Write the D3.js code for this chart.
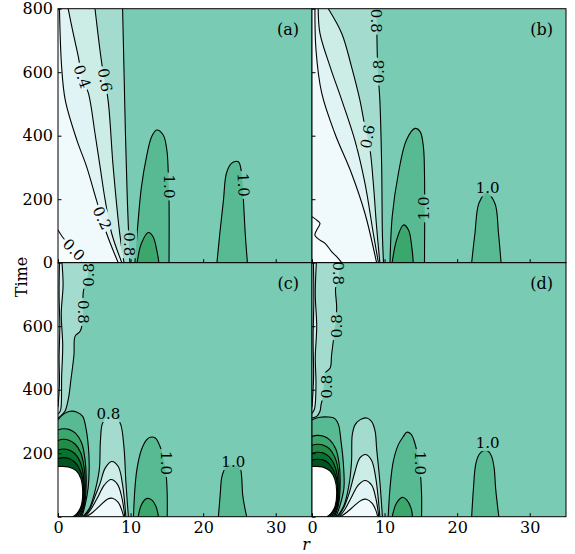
<!DOCTYPE html>
<html>
<head>
<meta charset="utf-8">
<script src="https://cdn.jsdelivr.net/npm/d3@7"></script>
<style>
body { margin: 0; background: #fff; }
text { font-family: "DejaVu Serif", serif; }
</style>
</head>
<body>
<script>
// contour levels and colour map (BuGn)
const levels = [0.0, 0.2, 0.4, 0.6, 0.8, 1.0, 1.2, 1.4, 1.6, 1.8, 2.0];
const bugn = ["#f7fcfd", "#e5f5f9", "#ccece6", "#99d8c9", "#66c2a4", "#41ae76", "#238b45", "#006d2c", "#00441b"];
const xTicks = [0, 10, 20, 30];
const yTicks = [0, 200, 400, 600, 800];

// ---- panel (a): contour lines as [r, time]
const a08 = [[8.9,800],[9.1,600],[9.3,400],[9.55,200],[9.9,0]];
const a06 = [[5.1,800],[6.1,617],[6.9,512],[7.6,302],[8.5,93],[9.1,0]];
const a04 = [[1.4,800],[2.1,722],[2.8,649],[3.3,586],[4.2,533],[5.1,407],[5.8,302],[6.5,197],[7.4,92],[8.8,0]];
const a02 = [[0.2,800],[0.5,617],[1.0,512],[2.6,386],[3.95,302],[5.3,197],[6.7,92],[8.3,0]];
const a00 = [[0,103],[0.75,77],[1.65,56],[2.55,29],[3.25,0]];
const a10a = [[10.6,0],[10.9,92],[11.5,239],[12.2,334],[12.9,397],[13.6,418],[14.5,402],[15.0,355],[15.2,281],[15.3,197],[15.3,0]];
const a12a = [[10.9,0],[11.5,61],[12.45,95],[13.1,82],[13.7,29],[13.9,0]];
const a10b = [[21.9,0],[22.3,92],[22.8,197],[23.2,281],[23.9,313],[24.85,318],[25.3,281],[25.55,197],[25.8,92],[26.1,0]];
const aLabels = [["0.4",3.3,586,70],["0.6",6.45,575,80],["0.2",6.05,140,65],["0.0",2.15,40,45],["0.8",9.8,58,90],["1.0",15.3,240,90],["1.0",25.5,245,87]];

// ---- panel (b)
const b08 = [[8.9,800],[9.05,617],[9.35,512],[9.6,302],[9.7,92],[9.85,0]];
const b06 = [[2.25,800],[4.1,722],[5.45,617],[6.6,512],[7.3,428],[8.0,355],[8.45,250],[8.9,113],[9.35,0]];
const b04 = [[0.85,800],[1.1,722],[2.5,617],[4.1,512],[5.9,386],[7.3,250],[8.45,92],[9.15,0]];
const b02 = [[0.4,800],[0.55,670],[1.35,533],[3.15,407],[5.45,281],[7.3,155],[8.9,0]];
const b00 = [[0,145],[0.65,134],[1.1,124],[0.65,103],[0.4,87],[1.1,71],[1.8,61],[2.7,35],[3.4,19],[4.1,0]];
const b10a = [[10.75,0],[11.05,145],[11.9,281],[13.0,386],[14.2,423],[14.9,413],[15.35,365],[15.5,281],[15.5,0]];
const b12a = [[11.05,0],[11.65,71],[12.6,119],[13.3,103],[13.75,50],[13.95,0]];
const b10b = [[22.0,0],[22.45,92],[23.0,187],[24.05,220],[25.2,187],[25.7,92],[26.05,0]];
const bLabels = [["0.8",8.85,762,90],["0.8",9.3,602,-90],["0.6",7.7,397,-80],["1.0",15.5,171,-90],["1.0",24.2,234,0]];

// ---- panel (c)
const c08 = [[4.3,800],[4.05,752],[3.5,710],[3.4,615],[3.05,584],[2.35,568],[2.2,510],[1.75,426],[1.45,374],[0.95,332],[0.3,316],[0,311]];
const c06 = [[0.55,800],[0.7,730],[0.45,640],[0.65,540],[0.5,440],[0.4,340],[0.2,328],[0,324]];
const c04 = [[0.2,800],[0.15,700],[0.25,600],[0.15,500],[0.2,420],[0,345]];
const c10 = [[0,305],[0.75,323],[1.65,332],[2.55,330],[3.4,316],[3.85,279],[4.2,216],[4.3,153],[4.15,90],[3.75,38],[3.3,0]];
const c12 = [[0,273],[0.7,277],[1.5,275],[2.4,263],[3.25,233],[3.75,175],[3.88,95],[3.63,36],[3.12,0]];
const c14 = [[0,240],[0.7,244],[1.5,241],[2.35,229],[3.1,203],[3.6,155],[3.74,86],[3.52,35],[2.95,0]];
const c16 = [[0,210],[0.7,213],[1.5,210],[2.3,199],[2.95,178],[3.45,138],[3.62,82],[3.42,35],[2.7,0]];
const c18 = [[0,183],[0.7,186],[1.5,183],[2.25,173],[2.85,155],[3.35,125],[3.52,80],[3.32,35],[2.45,0]];
const c20 = [[0,158],[1.4,157],[2.5,145],[3.15,120],[3.4,80],[3.2,35],[2.6,10],[2.05,0]];
const c08arch = [[3.45,0],[4.4,30],[5.2,90],[5.7,150],[5.85,240],[6.15,295],[6.9,313],[8.1,311],[8.65,290],[9.1,216],[9.35,111],[9.7,0]];
const c06arch = [[3.6,0],[4.4,25],[5.2,70],[5.8,105],[6.5,153],[7.4,174],[8.3,158],[8.9,100],[9.35,0]];
const c04arch = [[3.75,0],[4.5,22],[5.4,58],[6.4,100],[7.3,117],[8.2,102],[8.8,60],[9.2,0]];
const c02arch = [[3.9,0],[4.8,14],[5.8,35],[6.8,55],[7.5,58],[8.3,45],[8.8,20],[9.05,0]];
const c10a = [[10.4,0],[10.6,90],[10.9,153],[11.5,211],[12.2,242],[12.7,250],[13.4,248],[14.05,222],[14.5,185],[14.9,132],[15.05,69],[15.05,0]];
const c12a = [[11.05,0],[11.5,38],[12.2,57],[12.9,53],[13.5,32],[13.85,0]];
const c10b = [[22.1,0],[22.35,69],[22.55,122],[22.9,148],[23.25,162],[23.7,164],[24.15,155],[24.6,162],[25.1,153],[25.3,127],[25.45,69],[25.75,27],[26.0,0]];
const cLabels = [["0.8",4.25,762,-90],["0.8",3.45,645,90],["0.8",6.95,323,0],["1.0",14.95,169,90],["1.0",24.15,172,0]];

// ---- panel (d)
const d08 = [[3.85,800],[3.65,752],[3.25,720],[3.4,657],[3.1,584],[2.7,510],[2.5,468],[1.8,452],[1.55,384],[1.25,353],[1.1,332],[0.65,316],[0,311]];
const d06 = [[0.6,800],[0.45,700],[0.65,600],[0.45,500],[0.55,420],[0.35,340],[0,325]];
const d04 = [[0.2,800],[0.25,680],[0.15,560],[0.22,440],[0,345]];
const d10 = [[0,305],[1.1,313],[2.25,314],[3.15,309],[3.65,290],[4.0,237],[4.3,174],[4.4,90],[3.85,35],[3.3,0]];
const d12 = [[0,253],[0.7,256],[1.5,254],[2.4,243],[3.25,215],[3.75,165],[3.88,95],[3.63,36],[3.12,0]];
const d14 = [[0,225],[0.7,228],[1.5,226],[2.35,215],[3.1,190],[3.6,148],[3.74,86],[3.52,35],[2.95,0]];
const d16 = [[0,200],[0.7,203],[1.5,201],[2.3,190],[2.95,170],[3.45,133],[3.62,82],[3.42,35],[2.7,0]];
const d18 = [[0,178],[0.7,181],[1.5,179],[2.25,169],[2.85,150],[3.35,122],[3.52,80],[3.32,35],[2.45,0]];
const d20 = [[0,158],[1.4,157],[2.5,144],[3.15,118],[3.4,80],[3.2,35],[2.6,10],[2.05,0]];
const d08arch = [[3.45,0],[4.4,35],[5.1,100],[5.45,174],[5.55,258],[5.95,290],[6.6,305],[7.55,311],[8.2,300],[8.7,269],[8.9,216],[9.35,111],[9.7,0]];
const d06arch = [[3.6,0],[4.4,30],[5.2,80],[5.9,140],[6.6,185],[7.4,196],[8.2,178],[8.8,120],[9.35,0]];
const d04arch = [[3.75,0],[4.5,22],[5.4,60],[6.4,100],[7.3,114],[8.2,100],[8.8,58],[9.2,0]];
const d02arch = [[3.9,0],[4.8,14],[5.8,34],[6.8,52],[7.5,55],[8.3,42],[8.8,20],[9.05,0]];
const d10a = [[10.5,0],[10.75,90],[11.2,174],[11.9,227],[12.6,253],[13.05,266],[13.65,260],[14.1,237],[14.55,195],[14.9,143],[15.1,69],[15.1,0]];
const d12a = [[11.05,0],[11.65,43],[12.45,61],[13.05,53],[13.65,27],[13.85,0]];
const d10b = [[22.0,0],[22.25,90],[22.55,164],[23.0,195],[23.6,208],[24.3,206],[24.75,190],[25.1,153],[25.3,90],[25.6,27],[25.75,0]];
const dLabels = [["0.8",3.65,767,90],["0.8",3.4,600,-90],["0.8",2.0,410,-90],["1.0",14.9,169,90],["1.0",24.2,232,0]];

const W = 575, H = 554, S = 254;
const cmap = d3.scaleLinear().domain(d3.range(bugn.length).map(i => i / (bugn.length - 1))).range(bugn);
// colour of the band between levels[k] and levels[k+1]
const band = k => cmap(((levels[k] + levels[k + 1]) / 2 - levels[0]) / (levels[levels.length - 1] - levels[0]));

const TL = [[0,0],[0,800]], TOP = [[0,800]], BL = [[0,0]];

// fills in drawing order: [line, band index (-1 = below lowest level, -2 = above highest), extra corners]
const panels = [
  { name: "(a)", col: 0, row: 0, labels: aLabels,
    layers: [[a08,3,TL],[a06,2,TL],[a04,1,TL],[a02,0,TL],[a00,-1,BL],[a10a,5,[]],[a12a,6,[]],[a10b,5,[]]] },
  { name: "(b)", col: 1, row: 0, labels: bLabels,
    layers: [[b08,3,TL],[b06,2,TL],[b04,1,TL],[b02,0,TL],[b00,-1,BL],[b10a,5,[]],[b12a,6,[]],[b10b,5,[]]] },
  { name: "(c)", col: 0, row: 1, labels: cLabels,
    layers: [[c08,3,TOP],[c06,2,TOP],[c04,1,TOP],[c08arch,3,[]],[c06arch,2,[]],[c04arch,1,[]],[c02arch,0,[]],
             [c10,5,BL],[c12,6,BL],[c14,7,BL],[c16,8,BL],[c18,9,BL],[c20,-2,BL],[c10a,5,[]],[c12a,6,[]],[c10b,5,[]]] },
  { name: "(d)", col: 1, row: 1, labels: dLabels,
    layers: [[d08,3,TOP],[d06,2,TOP],[d04,1,TOP],[d08arch,3,[]],[d06arch,2,[]],[d04arch,1,[]],[d02arch,0,[]],
             [d10,5,BL],[d12,6,BL],[d14,7,BL],[d16,8,BL],[d18,9,BL],[d20,-2,BL],[d10a,5,[]],[d12a,6,[]],[d10b,5,[]]] }
];
const fillOf = k => k === -2 ? "#fff" : k === -1 ? bugn[0] : band(k);

const x = d3.scaleLinear().domain([0, 35]).range([0, S]);
const y = d3.scaleLinear().domain([0, 800]).range([S, 0]);
const line = d3.line().x(d => x(d[0])).y(d => y(d[1])).curve(d3.curveCatmullRom.alpha(0.5));

const svg = d3.select("body").append("svg").attr("width", W).attr("height", H);
const defs = svg.append("defs");
const left0 = 58, top0 = 8.7;

panels.forEach((p, i) => {
  const g = svg.append("g").attr("transform", `translate(${left0 + p.col * S},${top0 + p.row * S})`);
  defs.append("clipPath").attr("id", "clip" + i).append("rect").attr("width", S).attr("height", S);
  const mask = defs.append("mask").attr("id", "mask" + i).attr("maskUnits", "userSpaceOnUse")
    .attr("x", -10).attr("y", -10).attr("width", S + 20).attr("height", S + 20);
  mask.append("rect").attr("x", -10).attr("y", -10).attr("width", S + 20).attr("height", S + 20).attr("fill", "#fff");

  const body = g.append("g").attr("clip-path", `url(#clip${i})`);
  body.append("rect").attr("width", S).attr("height", S).attr("fill", band(4));

  body.append("g").selectAll("path").data(p.layers).join("path")
    .attr("d", d => line(d[0]) + d[2].map(c => `L${x(c[0])},${y(c[1])}`).join("") + "Z")
    .attr("fill", d => fillOf(d[1]));

  body.append("g").attr("mask", `url(#mask${i})`).selectAll("path").data(p.layers).join("path")
    .attr("d", d => line(d[0]))
    .attr("fill", "none").attr("stroke", "#000").attr("stroke-width", 1.1);

  const labs = body.append("g").selectAll("text").data(p.labels).join("text")
    .attr("transform", d => `translate(${x(d[1])},${y(d[2])}) rotate(${d[3]})`)
    .attr("text-anchor", "middle").attr("dominant-baseline", "central")
    .attr("font-size", 15).attr("fill", "#000")
    .text(d => d[0]);
  labs.each(function (d) {
    const bb = this.getBBox();
    mask.append("rect").attr("x", bb.x - 2).attr("y", bb.y + 1).attr("width", bb.width + 4).attr("height", bb.height - 2)
      .attr("transform", `translate(${x(d[1])},${y(d[2])}) rotate(${d[3]})`).attr("fill", "#000");
  });

  g.append("text").attr("x", S - 13).attr("y", 26).attr("text-anchor", "end")
    .attr("font-size", 16).text(p.name);

  // axes with inward ticks
  const xa = g.append("g").attr("transform", `translate(0,${S})`)
    .call(d3.axisBottom(x).tickValues(xTicks).tickSize(-3.5).tickPadding(5)
      .tickFormat(d => p.row === 1 ? d : ""));
  const ya = g.append("g")
    .call(d3.axisLeft(y).tickValues(yTicks).tickSize(-3.5).tickPadding(5)
      .tickFormat(d => p.col === 1 ? "" : (p.row === 1 && (d === 0 || d === 800)) ? "" : d));
  [xa, ya].forEach(a => {
    a.select(".domain").remove();
    a.selectAll("line").attr("stroke", "#000");
    a.selectAll("text").attr("font-size", 16).attr("font-family", "DejaVu Serif").attr("fill", "#000");
  });

  g.append("rect").attr("width", S).attr("height", S).attr("fill", "none").attr("stroke", "#000").attr("stroke-width", 1);
});

svg.append("text").attr("transform", "translate(21.5,277) rotate(-90)")
  .attr("text-anchor", "middle").attr("dominant-baseline", "central").attr("font-size", 16).text("Time");
svg.append("text").attr("x", 306).attr("y", 550).attr("text-anchor", "middle")
  .attr("font-size", 16).attr("font-style", "italic").text("r");
</script>
</body>
</html>
